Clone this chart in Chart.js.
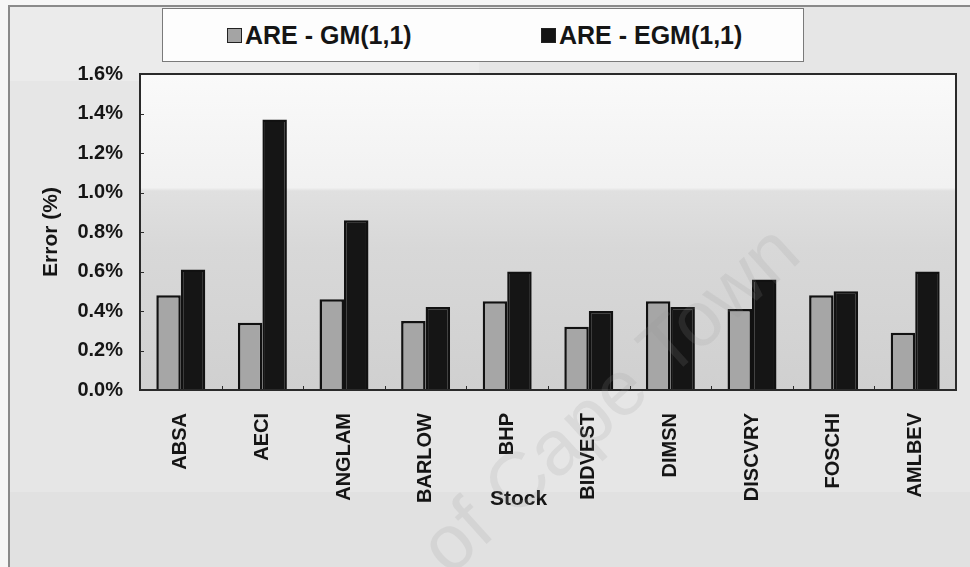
<!DOCTYPE html>
<html>
<head>
<meta charset="utf-8">
<script src="https://cdn.jsdelivr.net/npm/chart.js@4/dist/chart.umd.min.js"></script>
<style>
  html, body { margin: 0; padding: 0; background: #f6f6f6; }
  #wrap { position: relative; width: 970px; height: 567px; }
  #legend {
    position: absolute; left: 162px; top: 8px; width: 640px; height: 52px;
    background: #fdfdfd; border: 1.5px solid #7a7a7a;
    font-family: "Liberation Sans", Arial, sans-serif; font-weight: bold;
    font-size: 25px; color: #151515;
  }
  .item { position: absolute; top: 12px; white-space: nowrap; line-height: 28px; }
  .sw { display: inline-block; width: 13px; height: 13px; border: 1.5px solid #222; margin-right: 3px; vertical-align: 1px; }
</style>
</head>
<body>
<div id="wrap">
  <canvas id="chart" width="970" height="567"></canvas>
  <div id="legend">
    <span class="item" style="left:64px"><span class="sw" style="background:#a4a4a4"></span>ARE - GM(1,1)</span>
    <span class="item" style="left:378px"><span class="sw" style="background:#141414"></span>ARE - EGM(1,1)</span>
  </div>
</div>
<script>
// ===== Data =====
const stocks = ["ABSA", "AECI", "ANGLAM", "BARLOW", "BHP", "BIDVEST", "DIMSN", "DISCVRY", "FOSCHI", "AMLBEV"];
const areGM = [0.48, 0.34, 0.46, 0.35, 0.45, 0.32, 0.45, 0.41, 0.48, 0.29];
const areEGM = [0.61, 1.37, 0.86, 0.42, 0.60, 0.40, 0.42, 0.56, 0.50, 0.60];
const yTicks = [0, 0.2, 0.4, 0.6, 0.8, 1.0, 1.2, 1.4, 1.6];

const FONT = "'Liberation Sans', Arial, sans-serif";

// background, frame and plot fill
const backdrop = {
  id: "backdrop",
  beforeDraw(chart) {
    const c = chart.ctx, a = chart.chartArea;
    c.save();
    c.fillStyle = "#f6f6f6";
    c.fillRect(0, 0, chart.width, chart.height);
    c.fillStyle = "#e6e6e6";
    c.fillRect(9, 6, chart.width - 9, chart.height - 6);
    c.fillStyle = "#ebebeb";
    c.fillRect(9, 6, 470, 75);
    c.fillStyle = "#e1e1e1";
    c.fillRect(9, 492, chart.width - 9, chart.height - 492);
    c.strokeStyle = "#8a8a8a";
    c.lineWidth = 2;
    c.beginPath();
    c.moveTo(9, chart.height);
    c.lineTo(9, 6);
    c.lineTo(chart.width, 6);
    c.stroke();
    const g = c.createLinearGradient(0, a.top, 0, a.bottom);
    g.addColorStop(0, "#fafafa");
    g.addColorStop(0.36, "#f1f1f1");
    g.addColorStop(0.37, "#e0e0e0");
    g.addColorStop(0.55, "#d8d8d8");
    g.addColorStop(1, "#d0d0d0");
    c.fillStyle = g;
    c.fillRect(a.left, a.top, a.right - a.left, a.bottom - a.top);
    c.restore();
  }
};

// plot frame, small tick marks, axis title and watermark
const frame = {
  id: "frame",
  afterDatasetsDraw(chart) {
    const c = chart.ctx, a = chart.chartArea;
    const x = chart.scales.x, y = chart.scales.y;
    c.save();
    c.strokeStyle = "#2a2a2a";
    c.lineWidth = 2;
    c.strokeRect(a.left, a.top, a.right - a.left, a.bottom - a.top);
    c.lineWidth = 1;
    c.beginPath();
    yTicks.forEach(v => {
      const py = Math.round(y.getPixelForValue(v)) + 0.5;
      c.moveTo(a.left, py);
      c.lineTo(a.left + 4, py);
    });
    const step = (a.right - a.left) / stocks.length;
    for (let i = 1; i < stocks.length; i++) {
      const px = Math.round(a.left + i * step) + 0.5;
      c.moveTo(px, a.bottom);
      c.lineTo(px, a.bottom - 4);
    }
    c.stroke();
    c.fillStyle = "#151515";
    c.font = "bold 21px " + FONT;
    c.textAlign = "center";
    c.textBaseline = "middle";
    c.fillText("Stock", a.left + (a.right - a.left) * 0.464, a.bottom + 109);
    c.restore();
  },
  afterDraw(chart) {
    const c = chart.ctx;
    c.save();
    c.translate(612, 402);
    c.rotate(-42 * Math.PI / 180);
    c.font = "78px " + FONT;
    c.textAlign = "center";
    c.textBaseline = "middle";
    c.fillStyle = "rgba(150,150,150,0.16)";
    c.fillText("of Cape Town", 0, 0);
    c.restore();
  }
};

new Chart(document.getElementById("chart"), {
  type: "bar",
  data: {
    labels: stocks,
    datasets: [
      { label: "ARE - GM(1,1)", data: areGM, backgroundColor: "#a6a6a6", borderColor: "#111111", borderWidth: 2.5 },
      { label: "ARE - EGM(1,1)", data: areEGM, backgroundColor: "#151515", borderColor: "#111111", borderWidth: 2.5 }
    ]
  },
  options: {
    responsive: false,
    animation: false,
    layout: { padding: { left: 0, top: 74, right: 14, bottom: 0 } },
    datasets: { bar: { categoryPercentage: 0.6, barPercentage: 1.0 } },
    plugins: { legend: { display: false }, tooltip: { enabled: false } },
    scales: {
      x: {
        grid: { display: false },
        border: { display: false },
        ticks: {
          minRotation: 90, maxRotation: 90, padding: 15,
          color: "#151515", font: { family: FONT, size: 20, weight: "bold" }
        },
        afterFit(s) { s.height = 177; }
      },
      y: {
        min: 0, max: 1.6,
        afterBuildTicks(s) { s.ticks = yTicks.map(v => ({ value: v })); },
        grid: { display: false, drawTicks: false },
        border: { display: false },
        ticks: {
          padding: 17, color: "#151515",
          font: { family: FONT, size: 20, weight: "bold" },
          callback: v => v.toFixed(1) + "%"
        },
        title: {
          display: true, text: "Error (%)", color: "#151515",
          font: { family: FONT, size: 21, weight: "bold" },
          padding: { top: 39, bottom: 0 }
        },
        afterFit(s) { s.width = 140; }
      }
    }
  },
  plugins: [backdrop, frame]
});
</script>
</body>
</html>
